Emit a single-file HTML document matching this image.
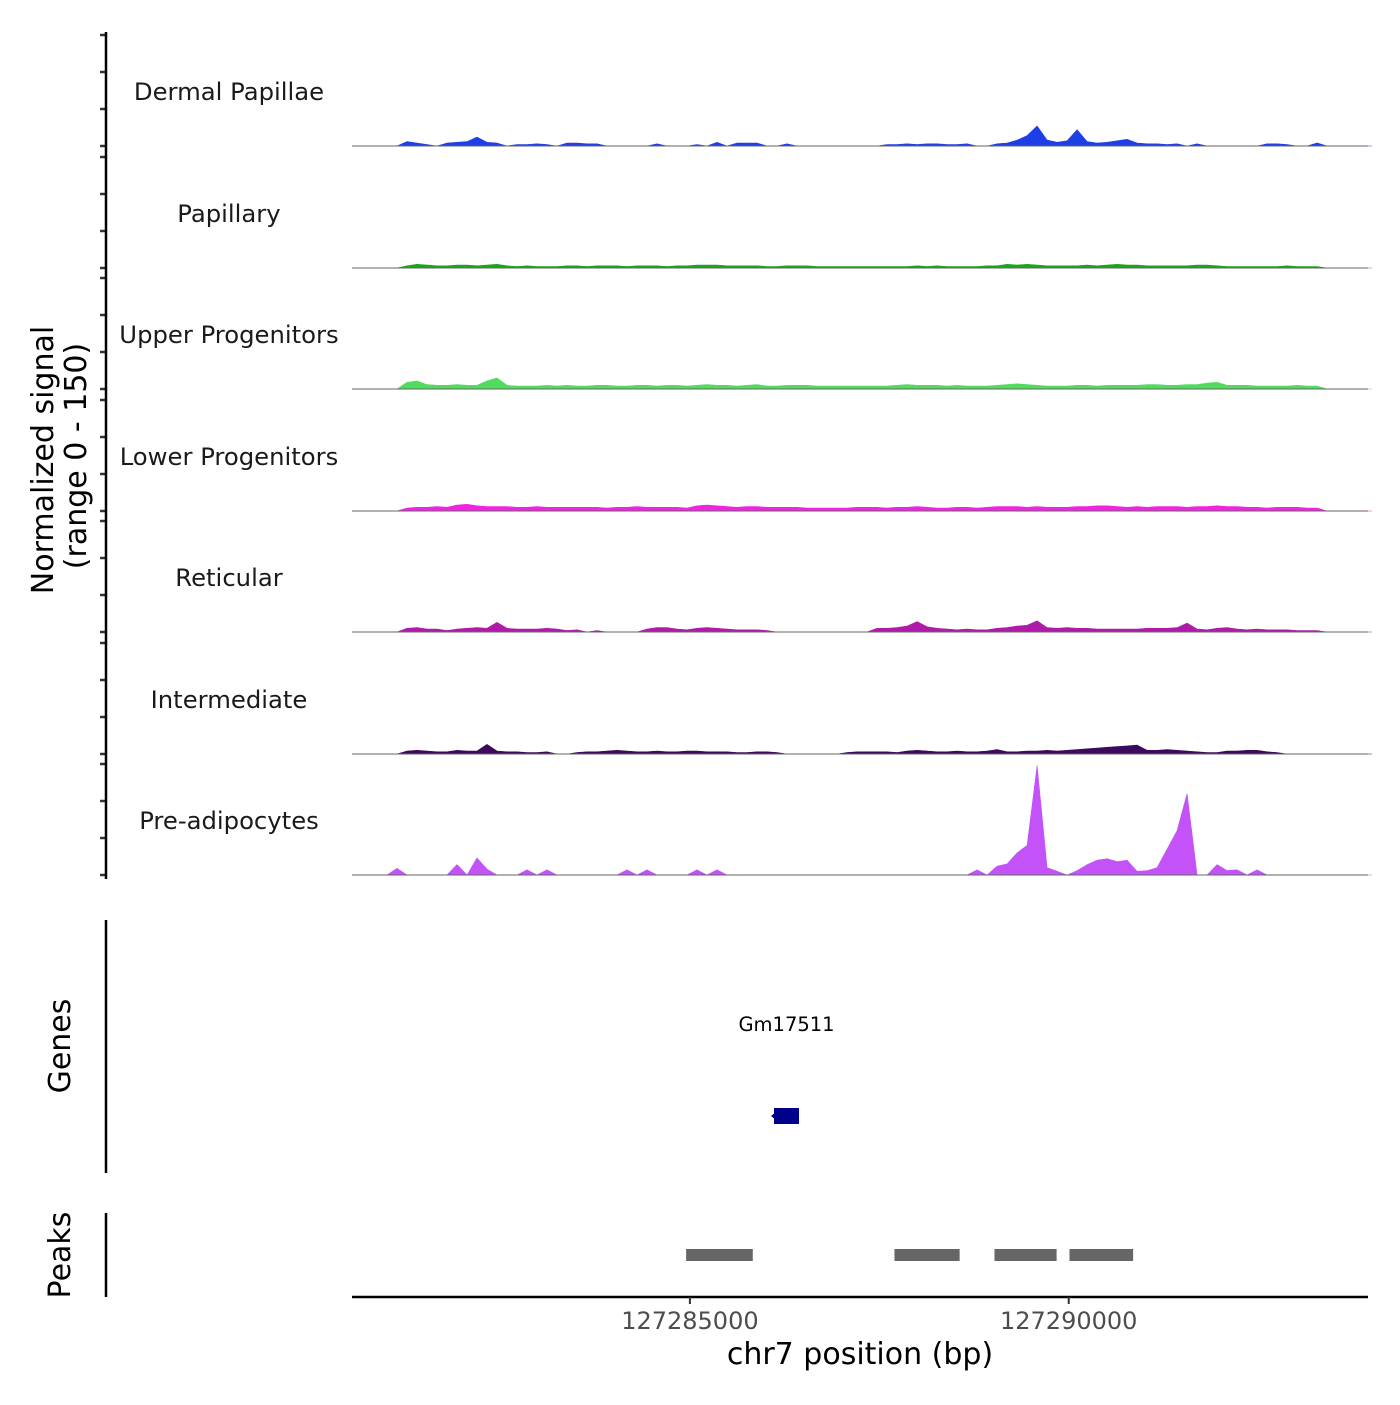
<!DOCTYPE html>
<html><head><meta charset="utf-8"><style>
body{margin:0;background:#fff;}
svg text{font-family:"DejaVu Sans","Liberation Sans",sans-serif;}
</style></head><body>
<svg id="chart" width="1400" height="1400" viewBox="0 0 1400 1400" xmlns="http://www.w3.org/2000/svg">
<g id="tracks"></g>
<g id="yaxis"></g>
<text transform="translate(53,460) rotate(-90)" text-anchor="middle" font-size="30" fill="#000">Normalized signal</text>
<text transform="translate(86,456) rotate(-90)" text-anchor="middle" font-size="30" fill="#000">(range 0 - 150)</text>
<line x1="106" y1="920" x2="106" y2="1173" stroke="#000" stroke-width="2.5"/>
<text transform="translate(70,1046) rotate(-90)" text-anchor="middle" font-size="30">Genes</text>
<line x1="106" y1="1213" x2="106" y2="1297" stroke="#000" stroke-width="2.5"/>
<text transform="translate(70,1255) rotate(-90)" text-anchor="middle" font-size="30">Peaks</text>
<g id="genes"></g>
<g id="peaks"></g>
<g id="xaxis"></g>
<text x="860" y="1364" text-anchor="middle" font-size="30">chr7 position (bp)</text>
</svg>
<script>
const NS='http://www.w3.org/2000/svg';
const trackNames=["Dermal Papillae","Papillary","Upper Progenitors","Lower Progenitors","Reticular","Intermediate","Pre-adipocytes"];
const trackColors=["#1f3fe6","#1aa51a","#52dc5e","#f222e2","#b01aa8","#3b0a5c","#c352f8"];
const binStart=127280540, binSize=132;
const dermal=[0,0,0,0,0,6,4,2,0,4,5,6,12,5,4,0,2,2,3,2,0,4,4,3,3,0,0,0,0,0,3,0,0,0,2,0,5,0,4,4,4,0,0,3,0,0,0,0,0,0,0,0,0,2,2,3,2,3,3,2,2,3,0,0,3,4,8,14,27,8,5,7,22,6,4,5,7,9,4,3,3,2,3,0,3,0,0,0,0,0,0,3,3,2,0,0,4,0,0,0,0,0];
const papillary=[0,0,0,0,0,3,5,4,3,3,4,4,3,4,5,3,2,3,2,2,2,3,3,2,3,3,3,2,3,3,3,2,3,3,4,4,4,3,3,3,3,2,2,3,3,3,2,2,2,2,2,2,2,2,2,2,3,2,3,2,2,2,2,3,3,5,4,5,4,3,3,3,3,4,3,4,5,4,4,3,3,3,3,3,4,4,3,2,2,2,2,2,2,3,2,2,2,0,0,0,0,0];
const upperProg=[0,0,0,0,0,9,11,6,5,5,6,5,5,11,15,5,4,4,4,5,4,5,4,4,5,5,4,4,5,5,4,5,5,4,5,6,5,5,4,5,6,4,4,5,5,5,4,4,4,4,4,4,4,4,5,6,5,5,5,4,5,4,4,4,5,6,7,6,5,4,4,4,5,5,4,5,5,5,5,6,6,5,5,6,6,8,9,5,5,5,4,4,4,4,5,4,4,0,0,0,0,0];
const lowerProg=[0,0,0,0,0,4,5,5,6,5,8,9,7,6,6,6,5,5,6,5,5,5,5,5,5,4,5,5,6,5,5,5,5,4,7,8,7,6,5,6,6,5,5,5,5,4,4,4,4,4,5,5,5,4,5,5,6,5,4,4,5,5,4,5,6,6,6,5,6,5,5,5,6,6,7,7,6,5,6,5,6,6,6,5,6,6,7,6,6,5,5,4,5,5,5,4,4,0,0,0,0,0];
const reticular=[0,0,0,0,0,5,6,4,4,2,4,5,6,5,13,5,4,4,4,5,4,2,3,0,2,0,0,0,0,4,6,6,4,3,5,6,5,4,3,3,3,2,0,0,0,0,0,0,0,0,0,0,5,5,6,8,14,7,5,4,3,4,3,3,5,6,8,9,15,6,5,6,5,5,4,4,4,4,4,5,5,5,6,12,4,3,5,6,4,3,4,3,3,3,2,2,2,0,0,0,0,0];
const intermed=[0,0,0,0,0,4,5,4,3,3,5,4,4,13,4,3,3,2,2,3,0,0,2,3,3,4,5,4,3,3,4,3,3,4,4,3,3,3,2,2,3,3,2,0,0,0,0,0,0,2,3,3,3,3,2,4,5,4,3,3,4,3,3,4,6,3,3,4,4,5,4,5,6,7,8,9,10,11,12,5,5,6,5,4,3,2,2,4,4,5,5,3,2,0,0,0,0,0,0,0,0,0];
const preAdipo=[0,0,0,0,9,0,0,0,0,0,14,0,23,8,0,0,0,7,0,7,0,0,0,0,0,0,0,7,0,7,0,0,0,0,7,0,7,0,0,0,0,0,0,0,0,0,0,0,0,0,0,0,0,0,0,0,0,0,0,0,0,0,7,0,12,15,30,40,148,10,5,0,6,14,20,22,18,20,5,6,10,35,60,110,0,0,14,6,7,0,7,0,0,0,0,0,0,0,0,0,0,0];
const signals=[dermal,papillary,upperProg,lowerProg,reticular,intermed,preAdipo];
const xTicks=[127285000,127290000];
const xTickLabels=["127285000","127290000"];
const peakStarts=[127284950,127287700,127289020,127290010];
const peakEnds=[127285830,127288560,127289840,127290850];
const geneName="Gm17511";
const geneStart=127286110, geneEnd=127286440;

const X0=352,X1=1368,bp0=127280540,bp1=127293950;
const xS=bp=>X0+(bp-bp0)/(bp1-bp0)*(X1-X0);
const baselines=[146,268,389,511,632,754,875];
const yS=(v,b)=>b-v/150*111;
function mk(tag,attrs,parent){const e=document.createElementNS(NS,tag);for(const k in attrs)e.setAttribute(k,attrs[k]);parent.appendChild(e);return e;}
const tg=document.getElementById('tracks'), ya=document.getElementById('yaxis');
signals.forEach((arr,t)=>{
  const b=baselines[t];
  let d='M'+xS(binStart)+','+b;
  arr.forEach((v,i)=>{d+=' L'+xS(binStart+(i+0.5)*binSize).toFixed(1)+','+yS(v,b).toFixed(1);});
  d+=' L'+xS(binStart+arr.length*binSize)+','+b+' Z';
  const p=mk('path',{d:d,fill:trackColors[t],stroke:trackColors[t],'stroke-width':'0.6'},tg);
  
  
  const bl=mk('line',{x1:X0,x2:X1,y1:b,y2:b,stroke:'#666','stroke-width':'1'},tg);
  
  
  const lb=mk('text',{x:229,y:b-46,'text-anchor':'middle','font-size':'24.3',fill:'#1a1a1a'},tg);
  lb.textContent=trackNames[t];
  
  
  [0,50,100,150].forEach(v=>{
    const tk=mk('line',{x1:100,x2:106,y1:yS(v,b),y2:yS(v,b),stroke:'#333','stroke-width':'2.5'},ya);
    
    
  });
});
const al=mk('line',{x1:106,x2:106,y1:32,y2:879,stroke:'#000','stroke-width':'2.5'},ya);


const gg=document.getElementById('genes');
const gl=mk('text',{x:(xS(geneStart)+xS(geneEnd))/2,y:1031,'text-anchor':'middle','font-size':'19.5'},gg);
gl.textContent=geneName;


const gb=mk('rect',{x:xS(geneStart),y:1108,width:xS(geneEnd)-xS(geneStart),height:16,fill:'#00008b'},gg);


const ga=mk('path',{d:`M${xS(geneStart)-3},1116 L${xS(geneStart)+2},1112 L${xS(geneStart)+2},1120 Z`,fill:'#00008b'},gg);


const pg=document.getElementById('peaks');
peakStarts.forEach((s,i)=>{
  const r=mk('rect',{x:xS(s),y:1249,width:xS(peakEnds[i])-xS(s),height:12,fill:'#666'},pg);
  
  
});
const xa=document.getElementById('xaxis');
const xl=mk('line',{x1:X0,x2:X1,y1:1297,y2:1297,stroke:'#000','stroke-width':'2.5'},xa);


xTicks.forEach((v,i)=>{
  const tk=mk('line',{x1:xS(v),x2:xS(v),y1:1297,y2:1304,stroke:'#333','stroke-width':'2'},xa);
  
  
  const tl=mk('text',{x:xS(v),y:1329,'text-anchor':'middle','font-size':'24',fill:'#4d4d4d'},xa);
  tl.textContent=xTickLabels[i];
  
  
});
</script>
</body></html>
